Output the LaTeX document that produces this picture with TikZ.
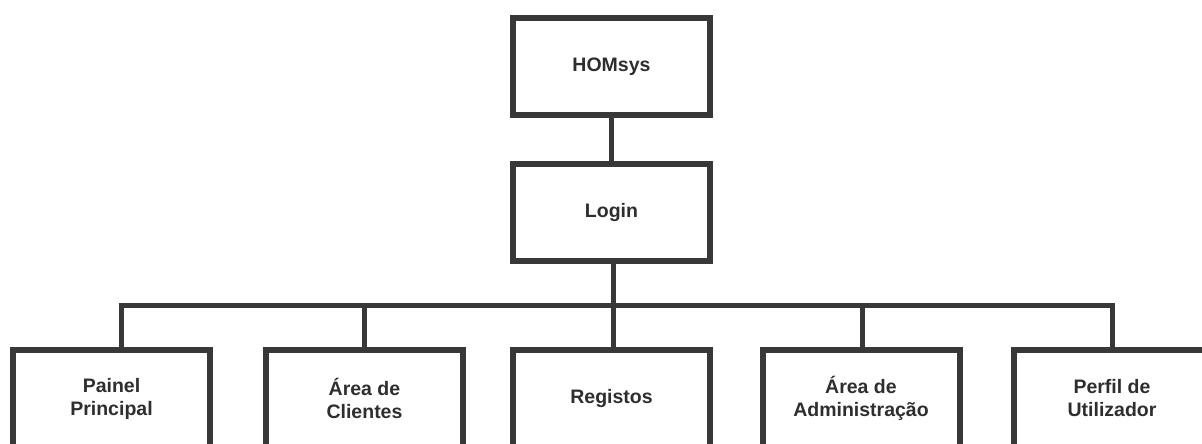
\documentclass[tikz,border=0pt]{standalone}
\usepackage{fontspec}
\setmainfont{Liberation Sans}
\begin{document}
\begin{tikzpicture}[x=1pt,y=-1pt,
  box/.style={draw=black!78,line width=6pt,rectangle,minimum width=197pt,minimum height=97pt,
    align=center,text=black!82,font=\bfseries\fontsize{19.5}{23}\selectfont,inner sep=0pt},
  link/.style={draw=black!78,line width=5pt}]
\useasboundingbox (0,0) rectangle (1202,444);
\clip (0,0) rectangle (1202,444);
\fill[white] (0,0) rectangle (1202,444);
\node[box] (hom) at (611.5,66.5) {HOMsys};
\node[box] (login) at (611.5,212.5) {Login};
\node[box] (p1) at (111.5,398.5) {Painel\\Principal};
\node[box] (p2) at (364.5,398.5) {Área de\\Clientes};
\node[box] (p3) at (611.5,398.5) {Registos};
\node[box] (p4) at (861,398.5) {Área de\\Administração};
\node[box] (p5) at (1112,398.5) {Perfil de\\Utilizador};
\coordinate (bus) at (613,305);
\draw[link] (hom.south) -- (login.north);
\draw[link] ([xshift=1.5pt]login.south) -- ([xshift=1.5pt]login.south |- bus);
\draw[link] ([xshift=9.5pt]p1.north) |- (bus) -| (p5.north);
\draw[link] (p2.north) -- (p2.north |- bus);
\draw[link] ([xshift=1.5pt]p3.north) -- ([xshift=1.5pt]p3.north |- bus);
\draw[link] ([xshift=1pt]p4.north) -- ([xshift=1pt]p4.north |- bus);
\end{tikzpicture}
\end{document}
